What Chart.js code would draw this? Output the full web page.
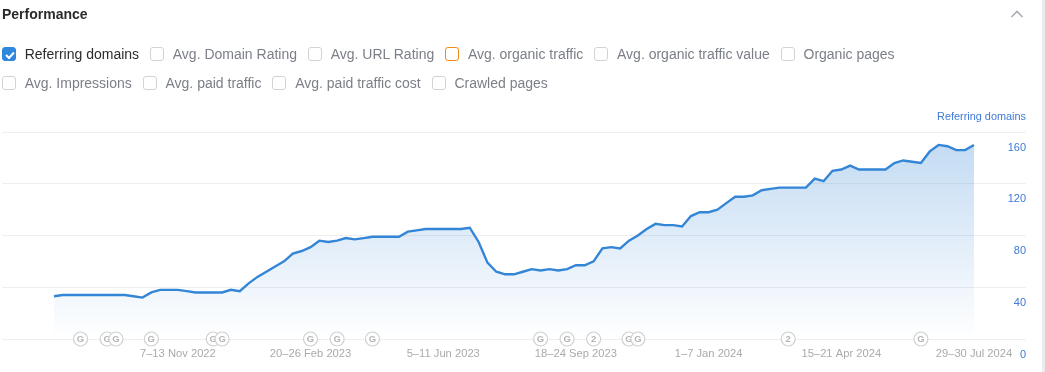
<!DOCTYPE html>
<html>
<head>
<meta charset="utf-8">
<script src="https://cdn.jsdelivr.net/npm/chart.js@4"></script>
<style>
  html,body{margin:0;padding:0;background:#fff;font-family:"Liberation Sans",Arial,sans-serif;overflow:hidden}
  #page{position:relative;width:1045px;height:372px;overflow:hidden}
  #strip{position:absolute;left:1042px;top:0;width:3px;height:372px;background:#e9ebef}
  #title{position:absolute;left:2px;top:6px;font-size:14px;font-weight:bold;color:#2b2b2b;line-height:16px}
  #chevron{position:absolute;left:1010px;top:9px}
  .row{position:absolute;left:2px;display:flex;font-size:14px;line-height:16px;color:#7b7f87}
  .item{display:flex;align-items:center;margin-right:11px}
  .box{box-sizing:border-box;width:14px;height:14px;border:1px solid #d0d3d7;border-radius:3px;margin-right:8.7px;position:relative}
  .box.on{background:#2f86dd;border-color:#2f86dd}
  .box.orange{border-color:#f08c13}
  .box svg{position:absolute;left:1px;top:1px}
  .item.on{color:#2b2b2b}
  #axisName{position:absolute;right:19px;top:109px;font-size:10.9px;line-height:14px;color:#3f7ad6}
  #c{position:absolute;left:0;top:0}
</style>
</head>
<body>
<div id="page">
  <canvas id="c" width="1045" height="372"></canvas>
  <div id="strip"></div>
  <div id="title">Performance</div>
  <svg id="chevron" width="14" height="10"><path d="M1.5 8 L7 2.5 L12.5 8" fill="none" stroke="#a9adb3" stroke-width="1.6"/></svg>
  <div class="row" id="row1" style="top:46px"></div>
  <div class="row" id="row2" style="top:75px"></div>
  <div id="axisName">Referring domains</div>
</div>
<script>
const legendRow1 = ["Referring domains","Avg. Domain Rating","Avg. URL Rating","Avg. organic traffic","Avg. organic traffic value","Organic pages"];
const legendRow2 = ["Avg. Impressions","Avg. paid traffic","Avg. paid traffic cost","Crawled pages"];

/* weekly values, week 0 = 1-7 Aug 2022 */
const referringDomains = [
  33,34,34,34,34,34,34,34,34,33,32,36,38,38,38,37,36,36,36,36,38,
  37,43,48,52,56,60,66,68,71,76,75,76,78,77,78,79,79,79,79,83,84,
  85,85,85,85,85,86,75,59,52,50,50,52,54,53,54,53,54,57,57,60,70,
  71,70,76,80,85,89,88,88,87,95,98,98,100,105,110,110,111,115,116,
  117,117,117,117,124,122,130,131,134,131,131,131,131,136,138,137,
  136,145,150,149,146,146,150
];

const tickWeeks = [14,29,44,59,74,89,104];
const tickLabels = ["7–13 Nov 2022","20–26 Feb 2023","5–11 Jun 2023","18–24 Sep 2023","1–7 Jan 2024","15–21 Apr 2024","29–30 Jul 2024"];

const markerWeeks = [3,6,7,11,18,19,29,32,36,55,58,61,65,66,83,98];
const markerLetters = ["G","G","G","G","G","G","G","G","G","G","G","2","G","G","2","G"];

function addLegend(rowId, names){
   let row = document.getElementById(rowId);
   names.forEach(function(name){
      let item = document.createElement("div");
      item.className = "item";
      let box = document.createElement("span");
      box.className = "box";
      if(name === "Referring domains"){
         item.className += " on";
         box.className += " on";
         box.innerHTML = '<svg width="12" height="12"><path d="M2 6 L5 9 L10 3.5" fill="none" stroke="#fff" stroke-width="2"/></svg>';
      }
      if(name === "Avg. organic traffic") box.className += " orange";
      item.appendChild(box);
      item.appendChild(document.createTextNode(name));
      row.appendChild(item);
   });
}

addLegend("row1", legendRow1);
addLegend("row2", legendRow2);

/* circles drawn here so a later marker covers the letter of the one under it */
const markerBadges = {
   id:"markerBadges",
   afterDatasetsDraw(chart){
      let meta = chart.getDatasetMeta(1);
      let ctx = chart.ctx;
      ctx.save();
      ctx.font = "bold 9.5px 'Liberation Sans'";
      ctx.textAlign = "center";
      ctx.textBaseline = "middle";
      meta.data.forEach(function(pt,i){
         ctx.beginPath();
         ctx.arc(pt.x, pt.y, 7, 0, Math.PI*2);
         ctx.fillStyle = "#fff";
         ctx.fill();
         ctx.lineWidth = 1.2;
         ctx.strokeStyle = "#d0d0d0";
         ctx.stroke();
         ctx.fillStyle = "#b5b5b5";
         ctx.fillText(markerLetters[i], pt.x, pt.y+0.5);
      });
      ctx.restore();
   }
};

function fillGradient(context){
   let area = context.chart.chartArea;
   if(!area) return "rgba(51,133,214,0.3)";
   let g = context.chart.ctx.createLinearGradient(0,144,0,area.bottom);
   g.addColorStop(0,"rgba(51,133,214,0.29)");
   g.addColorStop(1,"rgba(51,133,214,0)");
   return g;
}

new Chart(document.getElementById("c").getContext("2d"), {
   type:"line",
   data:{
      datasets:[{
         data:referringDomains.map((v,i)=>({x:i,y:v})),
         borderColor:"#3385d6",
         borderWidth:2.4,
         backgroundColor:fillGradient,
         fill:"origin",
         pointRadius:0,
         tension:0
      },{
         data:markerWeeks.map(w=>({x:w,y:0})),
         showLine:false,
         pointRadius:0
      }]
   },
   options:{
      responsive:false,
      animation:false,
      events:[],
      layout:{autoPadding:false,padding:{left:2,right:19,top:132,bottom:0}},
      plugins:{legend:{display:false},tooltip:{enabled:false}},
      scales:{
         x:{
            type:"linear",
            min:-5.88,
            max:109.88,
            grid:{display:false},
            border:{display:false},
            afterBuildTicks(scale){
               scale.ticks = tickWeeks.map(w=>({value:w}));
            },
            afterFit(scale){
               scale.height = 33;
            },
            ticks:{
               autoSkip:false,
               maxRotation:0,
               padding:0,
               color:"#aaaaaa",
               font:{family:"Liberation Sans",size:11.2},
               callback(v){
                  return tickLabels[tickWeeks.indexOf(v)];
               }
            }
         },
         y:{
            position:"right",
            min:0,
            max:160,
            grid:{color:"#eeeeee",drawTicks:false},
            border:{display:false},
            ticks:{
               stepSize:40,
               mirror:true,
               padding:0,
               labelOffset:15.5,
               color:"#3f7ad6",
               font:{family:"Liberation Sans",size:11}
            }
         }
      }
   },
   plugins:[markerBadges]
});
</script>
</body>
</html>
